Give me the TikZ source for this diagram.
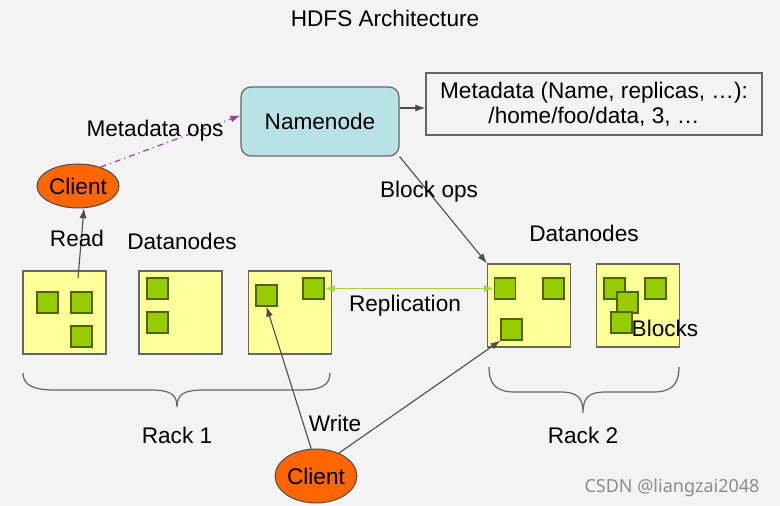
\documentclass[tikz,border=0pt]{standalone}
\usepackage{fontspec}
\setmainfont{Liberation Sans}
\newfontfamily\markfont{Noto Sans}
\usetikzlibrary{shapes.geometric,arrows.meta}

\begin{document}
\begin{tikzpicture}[x=0.5pt,y=-0.5pt,font=\fontsize{11.3}{12.5}\selectfont,
  datanode/.style={draw=black!60,fill=dnyellow,minimum size=41.5pt,inner sep=0pt,line width=0.6pt},
  block/.style={draw=blockedge,fill=blockgreen,minimum size=10.5pt,inner sep=0pt,line width=0.6pt},
  client/.style={ellipse,draw=black!70,fill=clientorange,inner sep=0pt,line width=0.5pt},
  link/.style={draw=black!70,line width=0.55pt,-{Latex[length=5pt,width=3.5pt]}},
  rackbrace/.style={draw=black!60,line width=0.6pt}]
\definecolor{bgcolor}{HTML}{F3F3F3}
\definecolor{dnyellow}{HTML}{FFFF99}
\definecolor{blockgreen}{HTML}{99CC00}
\definecolor{blockedge}{HTML}{4D6600}
\definecolor{clientorange}{HTML}{FF6600}
\definecolor{namecyan}{HTML}{B8E2E5}
\definecolor{opspurple}{HTML}{9E3CA8}
\definecolor{replgreen}{HTML}{A6D13F}
\fill[bgcolor] (0,0) rectangle (780,506);
\useasboundingbox (0,0) rectangle (780,506);

\node (title) at (385,18) {HDFS Architecture};
\node[draw=black!60,fill=namecyan,rounded corners=5pt,minimum width=79pt,minimum height=34.5pt,line width=0.6pt] (nn) at (320,121.5) {Namenode};
\node[draw=black!60,minimum width=168pt,minimum height=31pt,align=center,line width=0.6pt] (meta) at (594,104) {Metadata (Name, replicas, \dots):\\/home/foo/data, 3, \dots};
\draw[link] ([yshift=-2pt]nn.east |- meta.west) -- ([yshift=-2pt]meta.west);

\node[client,minimum width=41pt,minimum height=22pt] (c1) at (78,186) {Client};
\node[client,minimum width=40.5pt,minimum height=27pt] (c2) at (316,476) {Client};
\draw[opspurple,line width=0.6pt,dash dot,-{Latex[length=5pt,width=3.5pt]}] (c1.40) -- ([yshift=3pt]nn.west);
\node (mdops) at (155,131) {Metadata ops};

% datanodes in the two racks
\foreach \name/\xpos/\ypos in {dn1/64.5/312.5,dn2/180.5/312.5,dn3/290/312.5,dn4/529/305.5,dn5/638/305.5}
  {  \node [datanode] (\name) at (\xpos,\ypos) {};}
\foreach \name/\xpos/\ypos in {b1a/47.5/302.5,b1b/81.5/302.5,b1c/81.5/336.5,b2a/157.5/288.5,b2b/157.5/322.5,
  b3a/266.5/295.5,b3b/313.5/288.5,b4a/505/288.5,b4b/553.5/288.5,b4c/511.5/329.5,
  b5a/614.5/288.5,b5b/655.5/288.5,b5c/627.5/302.5,b5d/621.5/322.5}
  {  \node [block] (\name) at (\xpos,\ypos) {};}
\node (blocks) at (665,328) {Blocks};
\node (dnlabel1) at (182,241) {Datanodes};
\node (dnlabel2) at (584,233) {Datanodes};

\coordinate (readfrom) at (78,278);
\draw[link] (readfrom) -- (c1.-75);
\node (read) at (77,238) {Read};

\draw[replgreen,line width=0.8pt,{Latex[length=5pt,width=3.5pt]}-{Latex[length=5pt,width=3.5pt]}] (b3b.east) -- (b4a.west);
\node (repl) at (405,306) {Replication};

\draw[link] (nn.south east) -- (dn4.north west);
\node (blockops) at (429,192) {Block ops};

\draw[link] (c2.100) -- (b3a.south);
\draw[link] (c2.45) -- (b4c.south west);
\node (write) at (335,423) {Write};

% rack braces
\draw[rackbrace] (23,373) .. controls (23,386) and (35,390) .. (55,390) -- (150,390)
  .. controls (170,390) and (177,394) .. (177,407) .. controls (177,394) and (184,390) .. (204,390)
  -- (300,390) .. controls (320,390) and (330,386) .. (330,373);
\draw[rackbrace] (489,367) .. controls (489,386) and (498,392) .. (515,392) -- (560,392)
  .. controls (578,392) and (583,398) .. (583,413) .. controls (583,398) and (588,392) .. (606,392)
  -- (653,392) .. controls (670,392) and (679,386) .. (679,367);
\node (rack1) at (177,435) {Rack 1};
\node (rack2) at (583,435) {Rack 2};

\node[text=black!45,font=\markfont\fontsize{9}{11}\selectfont] (mark) at (672,488) {CSDN @liangzai2048};
\end{tikzpicture}
\end{document}
